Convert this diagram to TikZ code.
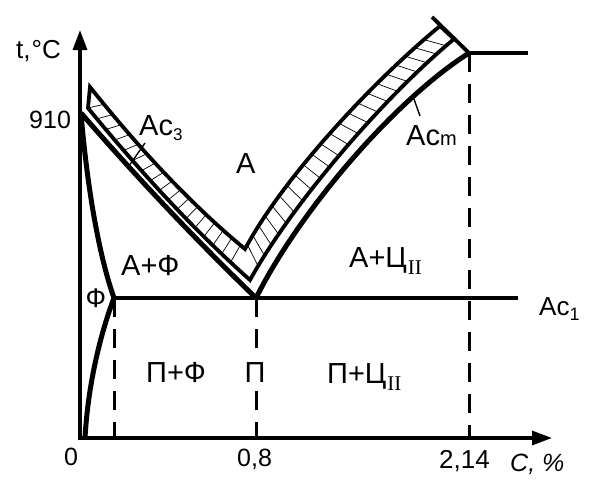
\documentclass[tikz,border=0pt]{standalone}
\usepackage{fontspec}
\setmainfont{Liberation Sans}
\newfontfamily\romanII{Liberation Serif}
\usetikzlibrary{arrows.meta}
\newcommand\subII{\kern1pt\raisebox{-7pt}{\romanII\fontsize{21}{21}\selectfont II}}
\begin{document}
\begin{tikzpicture}[x=1pt,y=-1pt,
  axisline/.style={line width=3.2pt,-{Triangle[width=14pt,length=20pt]}},
  phaseline/.style={line width=5pt},
  bandline/.style={line width=3.8pt,line join=miter},
  hatchline/.style={line width=0.7pt},
  guideline/.style={line width=3pt,dash pattern=on 19pt off 12pt},
  leaderline/.style={line width=1.4pt},
  lbl/.style={inner sep=0pt,font=\fontsize{29}{32}\selectfont},
  numlbl/.style={inner sep=0pt,font=\fontsize{25}{28}\selectfont}
]
\useasboundingbox (0,0) rectangle (604,490);
% key points
\coordinate (O) at (80,439.6);
\coordinate (Ytip) at (80,30);
\coordinate (Xtip) at (552,438);
\coordinate (Xs) at (78.4,438);
\coordinate (G) at (81,113);
\coordinate (P) at (114,298);
\coordinate (S) at (256,298);
\coordinate (E) at (469,53);
\coordinate (Etail) at (528,53);
\coordinate (K) at (518,298);
\coordinate (Q) at (85,438);
\coordinate (P0) at (114,438);
\coordinate (S0) at (256,438);
\coordinate (E0) at (469,438);
\coordinate (Cap) at (432,17);
% band corners
\coordinate (TL) at (90,87);
\coordinate (BL) at (88,108);
\coordinate (VT) at (245,249);
\coordinate (VB) at (250,280);
\coordinate (TR) at (440,26);
\coordinate (BR) at (454,39);
% hatching
\foreach \t in {0.09,0.145,...,1.0}{
  \pgfmathsetmacro\s{\t-0.09}
  \path (TL) .. controls (142,152) and (193,206) .. (VT) coordinate[pos=\t] (ha);
  \path (BL) .. controls (142,174) and (196,232) .. (VB) coordinate[pos=\s] (hb);
  \draw[hatchline] (ha) -- (hb);
}
\foreach \t in {0.02,0.063,...,0.96}{
  \pgfmathsetmacro\s{\t+0.04}
  \path (VT) .. controls (283,178) and (372,82) .. (TR) coordinate[pos=\t] (ha);
  \path (VB) .. controls (292,204) and (383,98) .. (BR) coordinate[pos=\s] (hb);
  \draw[hatchline] (ha) -- (hb);
}
% band outline
\draw[bandline] (TL) .. controls (142,152) and (193,206) .. (VT)
  .. controls (283,178) and (372,82) .. (TR) -- (BR)
  .. controls (383,98) and (292,204) .. (VB)
  .. controls (196,232) and (142,174) .. (BL) -- cycle;
\draw[bandline] (Cap) -- (E);
% guide lines
\draw[guideline] (P) -- (P0);
\draw[guideline] (S) -- (S0);
\draw[guideline] (E) -- (E0);
% axes
\draw[axisline] (O) -- (Ytip);
\draw[axisline] (Xs) -- (Xtip);
% phase lines
\draw[phaseline] (G) .. controls (140,181) and (198,242) .. (S) coordinate[pos=0.27] (gs3);
\draw[phaseline] (G) .. controls (86,175) and (97,250) .. (P);
\draw[phaseline] (P) .. controls (100,335) and (88,385) .. (Q);
\draw[line width=4.6pt] (P) -- (K);
\draw[phaseline] (S) .. controls (300,210) and (395,100) .. (E) coordinate[pos=0.76] (esm);
\draw[line width=4.2pt] (E) -- (Etail);
% leaders
\coordinate (L3) at (145,143);
\coordinate (Lm) at (420,116);
\draw[leaderline] (L3) -- (gs3);
\draw[leaderline] (Lm) -- (esm);
% labels
\node[numlbl,anchor=base west,font=\fontsize{26}{28}\selectfont] (tC) at (16,58) {t,\kern1pt°C};
\node[numlbl,anchor=base west] (n910) at (29,128) {910};
\node[lbl,anchor=base west] (ac3) at (139,135) {Ac\raisebox{-5pt}{\fontsize{17}{17}\selectfont 3}};
\node[lbl,anchor=base west] (aust) at (236,173) {А};
\node[lbl,anchor=base west] (af) at (121,275) {А+Ф};
\node[lbl,font=\fontsize{27}{30}\selectfont] (ferr) at (96,298) {Ф};
\node[lbl,anchor=base west] (acm) at (406,145) {Ac{\fontsize{20}{20}\selectfont m}};
\node[lbl,anchor=base west] (ac) at (349,267) {А+Ц\subII};
\node[numlbl,anchor=base west,font=\fontsize{26}{28}\selectfont] (ac1) at (539,315) {Ac\raisebox{-5pt}{\fontsize{18}{18}\selectfont 1}};
\node[lbl,anchor=base west] (pf) at (146,382) {П+Ф};
\node[lbl,fill=white,inner xsep=2pt,inner ysep=7pt] (perl) at (255,373) {П};
\node[lbl,anchor=base west] (pc) at (327,383) {П+Ц\subII};
\node[numlbl] (z) at (71,457) {0};
\node[numlbl,anchor=base west] (z8) at (237,466) {0,8};
\node[numlbl,anchor=base west,font=\fontsize{26}{28}\selectfont] (z214) at (439,468) {2,14};
\node[numlbl,anchor=base west] (cperc) at (510,471) {\itshape C, \%};
\end{tikzpicture}
\end{document}
